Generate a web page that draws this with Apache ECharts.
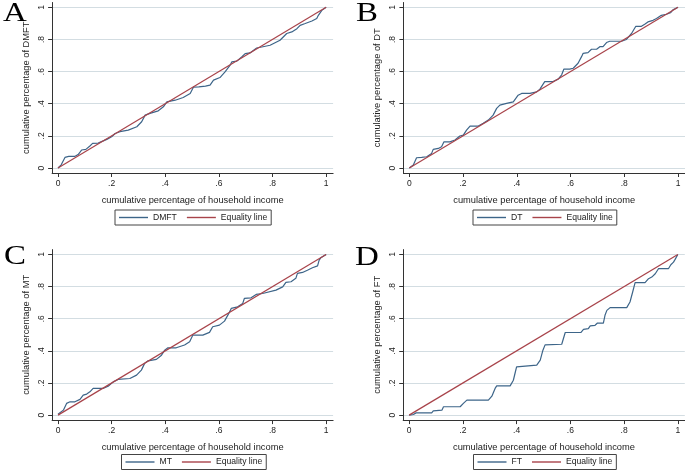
<!DOCTYPE html>
<html lang="en">
<head>
<meta charset="UTF-8" />
<title>Concentration curves</title>
<script src="https://cdn.jsdelivr.net/npm/echarts@6/dist/echarts.min.js"></script>
<style>
  html, body { margin: 0; padding: 0; background: #fff; }
  #main { width: 685px; height: 473px; }
</style>
</head>
<body>
<div id="main"></div>
<script type="text/javascript">

// tick values and their Stata-style labels
var tickValues = [0, 0.2, 0.4, 0.6, 0.8, 1];
var tickText = ['0', '.2', '.4', '.6', '.8', '1'];

// panel letters and outcome names
var panelLetters = ['A', 'B', 'C', 'D'];
var outcomes = ['DMFT', 'DT', 'MT', 'FT'];

// cumulative share of income (x) vs cumulative share of outcome (y)
var equalityLine = [[0, 0], [1, 1]];

var dmftCurve = [[0,0],[.012,.02],[.026,.066],[.04,.072],[.062,.072],[.075,.084],[.088,.112],[.104,.116],
  [.119,.137],[.129,.153],[.15,.155],[.16,.163],[.182,.178],[.2,.194],[.213,.215],[.231,.226],[.262,.236],
  [.294,.257],[.312,.288],[.325,.329],[.343,.34],[.374,.356],[.393,.381],[.406,.412],[.437,.422],[.467,.439],
  [.493,.464],[.505,.503],[.525,.505],[.55,.51],[.567,.516],[.58,.547],[.604,.563],[.623,.598],[.642,.64],
  [.648,.66],[.667,.665],[.685,.691],[.698,.712],[.716,.716],[.741,.747],[.76,.753],[.791,.764],[.828,.795],
  [.853,.837],[.872,.847],[.891,.867],[.903,.888],[.922,.899],[.947,.915],[.965,.93],[.971,.95],[.984,.981],[1,1]];

var dtCurve = [[0,0],[.015,.019],[.027,.064],[.046,.066],[.065,.07],[.083,.091],[.089,.116],[.108,.122],
  [.12,.132],[.129,.163],[.151,.163],[.17,.174],[.188,.199],[.201,.205],[.213,.236],[.226,.261],[.257,.261],
  [.275,.278],[.294,.298],[.312,.329],[.325,.371],[.337,.391],[.362,.402],[.387,.412],[.405,.453],[.418,.464],
  [.449,.464],[.474,.474],[.486,.491],[.504,.538],[.535,.538],[.554,.553],[.567,.58],[.575,.615],[.597,.615],
  [.61,.621],[.628,.652],[.641,.693],[.647,.714],[.665,.718],[.678,.739],[.697,.739],[.709,.755],[.721,.755],
  [.734,.781],[.746,.789],[.79,.789],[.808,.8],[.827,.837],[.843,.882],[.864,.882],[.876,.894],[.888,.909],
  [.907,.919],[.92,.93],[.938,.95],[.957,.957],[.972,.966],[.981,.984],[1,1]];

var mtCurve = [[0,.006],[.02,.031],[.032,.073],[.045,.083],[.063,.083],[.082,.098],[.094,.124],[.107,.131],
  [.119,.145],[.131,.166],[.168,.166],[.187,.18],[.206,.207],[.224,.222],[.268,.228],[.293,.249],[.311,.28],
  [.323,.322],[.336,.338],[.367,.347],[.386,.373],[.398,.404],[.41,.419],[.441,.419],[.472,.436],[.491,.456],
  [.503,.498],[.54,.498],[.565,.515],[.577,.55],[.602,.56],[.621,.585],[.637,.633],[.646,.664],[.67,.674],
  [.689,.695],[.695,.726],[.72,.73],[.739,.751],[.763,.757],[.813,.778],[.838,.798],[.85,.826],[.869,.83],
  [.887,.851],[.893,.882],[.912,.888],[.93,.902],[.949,.917],[.968,.929],[.974,.965],[.98,.979],[1,1]];

var ftCurve = [[0,0],[.016,.004],[.026,.014],[.084,.014],[.09,.027],[.122,.031],[.128,.052],[.19,.052],
  [.202,.073],[.215,.093],[.295,.093],[.308,.118],[.32,.166],[.326,.182],[.376,.182],[.388,.217],[.394,.259],
  [.4,.3],[.407,.311],[.475,.311],[.488,.342],[.498,.404],[.506,.437],[.568,.441],[.581,.514],[.639,.514],
  [.649,.534],[.667,.538],[.674,.555],[.692,.559],[.701,.573],[.723,.573],[.729,.621],[.736,.652],[.748,.669],
  [.81,.669],[.822,.704],[.832,.766],[.841,.824],[.878,.824],[.891,.849],[.903,.859],[.916,.88],[.928,.911],
  [.965,.911],[.974,.936],[.984,.952],[.99,.969],[1,1]];

var curves = [dmftCurve, dtCurve, mtCurve, ftCurve];

var FONT = '"Liberation Sans", Arial, sans-serif';
var TEXT = '#222';
var AXIS = '#333';
var BLUE = '#3d6589';
var RED = '#a8434a';
var GRIDLINE = '#d3dde2';

// pixel boxes of the four plot regions
var boxes = [
  { left: 52.1, top: 2.5, width: 281, height: 170.5 },
  { left: 403.4, top: 2.5, width: 281.9, height: 170.5 },
  { left: 52.1, top: 249.6, width: 281, height: 170.5 },
  { left: 403.2, top: 249.6, width: 281.6, height: 170.5 }
];
var legendLeft = [115, 473, 121.5, 473.5];
var legendTop = [210, 210, 454.5, 454.5];
var letterPos = [[3, 14], [356, 14], [4, 257], [355, 258]];

function tickLabel(v) {
  var i = tickValues.indexOf(Math.round(v * 10) / 10);
  return i >= 0 ? tickText[i] : '';
}

var grid = [], xAxis = [], yAxis = [], series = [], legend = [], graphic = [];

for (var i = 0; i < 4; i++) {
  grid.push(boxes[i]);

  xAxis.push({
    type: 'value', gridIndex: i, min: -0.022, max: 1.026,
    name: 'cumulative percentage of household income',
    nameLocation: 'middle', nameGap: 23,
    nameTextStyle: { fontSize: 9.3, color: TEXT, fontFamily: FONT },
    axisLine: { show: true, onZero: false, lineStyle: { color: AXIS, width: 1 } },
    axisTick: { show: true, length: 4, customValues: tickValues, lineStyle: { color: AXIS } },
    axisLabel: { customValues: tickValues, formatter: tickLabel, fontSize: 8.5, margin: 6, color: TEXT, fontFamily: FONT },
    splitLine: { show: false }
  });

  // grid lines follow the tick values
  yAxis.push({
    type: 'value', gridIndex: i, min: -0.031, max: 1.03, splitNumber: 5,
    name: 'cumulative percentage of ' + outcomes[i],
    nameLocation: 'middle', nameGap: 21,
    nameTextStyle: { fontSize: 9.3, color: TEXT, fontFamily: FONT },
    axisLine: { show: true, onZero: false, lineStyle: { color: AXIS, width: 1 } },
    axisTick: { show: true, length: 4, customValues: tickValues, lineStyle: { color: AXIS } },
    axisLabel: { customValues: tickValues, formatter: tickLabel, rotate: 90, fontSize: 8.5, margin: 6, color: TEXT, fontFamily: FONT },
    splitLine: { show: true, showMinLine: true, showMaxLine: true, lineStyle: { color: GRIDLINE, width: 1, type: 'solid' } }
  });

  series.push({
    name: outcomes[i], type: 'line', xAxisIndex: i, yAxisIndex: i,
    data: curves[i], symbol: 'none', smooth: false,
    lineStyle: { color: BLUE, width: 1.2 }, itemStyle: { color: BLUE },
    z: 3
  });

  series.push({
    name: 'Equality line', type: 'line', xAxisIndex: i, yAxisIndex: i,
    data: equalityLine, symbol: 'none',
    lineStyle: { color: RED, width: 1.2 }, itemStyle: { color: RED },
    z: 4
  });

  legend.push({
    data: [outcomes[i], 'Equality line'],
    left: legendLeft[i], top: legendTop[i],
    orient: 'horizontal',
    icon: 'rect',
    itemWidth: 29, itemHeight: 1.4, itemGap: 10,
    padding: [3, 4, 3, 4],
    borderColor: '#444', borderWidth: 1, borderRadius: 0,
    selectedMode: false,
    textStyle: { fontSize: 8.6, color: TEXT, fontFamily: FONT }
  });

  graphic.push({
    type: 'text', x: letterPos[i][0], y: letterPos[i][1], scaleX: 1.22,
    style: { text: panelLetters[i], fontSize: 27, fontFamily: '"Liberation Serif", "Times New Roman", serif',
      fill: '#000', verticalAlign: 'middle' }
  });
}

var myChart = echarts.init(document.getElementById('main'));
myChart.setOption({
  animation: false,
  backgroundColor: '#fff',
  grid: grid,
  xAxis: xAxis,
  yAxis: yAxis,
  legend: legend,
  graphic: graphic,
  series: series
});

</script>
</body>
</html>
